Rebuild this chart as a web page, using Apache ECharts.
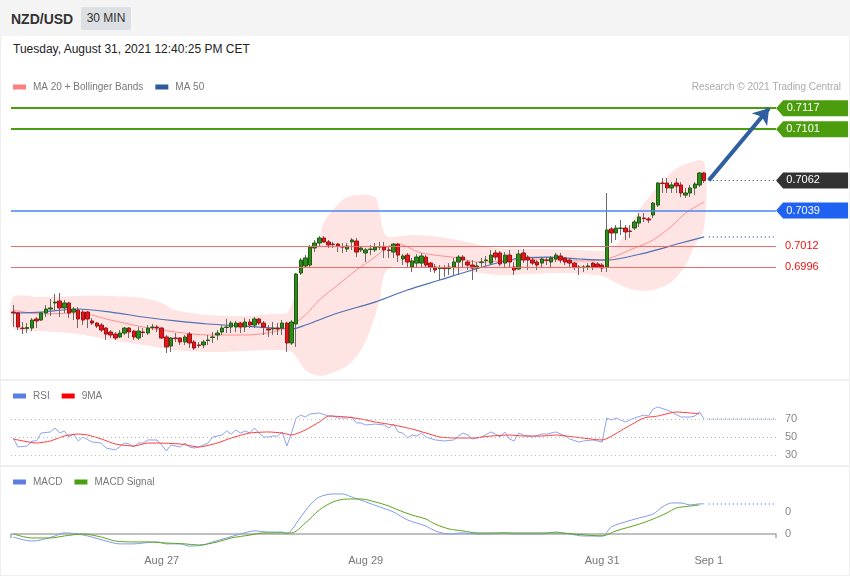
<!DOCTYPE html>
<html><head><meta charset="utf-8">
<script src="https://cdn.jsdelivr.net/npm/echarts@6/dist/echarts.min.js"></script>
<style>
html,body{margin:0;padding:0;background:#fff;}
#wrap{position:relative;width:850px;height:576px;overflow:hidden;font-family:Arial,"Liberation Sans",sans-serif;}
#hdr{position:absolute;left:0;top:0;width:850px;height:36px;background:#f4f4f4;}
#sym{position:absolute;left:11px;top:10px;font-size:14px;font-weight:bold;color:#333;line-height:18px;}
#tf{position:absolute;left:81px;top:7px;width:50px;height:23px;background:#dcdfe4;color:#333;font-size:12px;line-height:23px;text-align:center;border-radius:2px;}
#date{position:absolute;left:13px;top:41px;font-size:12px;color:#222;line-height:16px;}
#chart{position:absolute;left:0;top:0;width:850px;height:576px;z-index:2;}
.sep{position:absolute;left:0;width:850px;height:2px;background:#efefef;}
.vb{position:absolute;top:36px;width:1px;height:540px;background:#efefef;}
</style></head>
<body>
<div id="wrap">
  <div id="hdr"><div id="sym">NZD/USD</div><div id="tf">30 MIN</div></div>
  <div id="date">Tuesday, August 31, 2021 12:40:25 PM CET</div>
  <div class="sep" style="top:379px"></div>
  <div class="sep" style="top:465px"></div>
  <div class="sep" style="top:575px;height:1px"></div>
  <div class="vb" style="left:0"></div>
  <div class="vb" style="left:849px"></div>
  <div id="chart"></div>
</div>
<script>
const nSlots = 165;
const xLabelIdx = [32, 76, 127, 150];
const xLabelText = ['Aug 27', 'Aug 29', 'Aug 31', 'Sep 1'];

// [open, close, low, high]
const ohlc = [
[0.69617,0.69610,0.69503,0.69670],[0.69610,0.69503,0.69480,0.69617],[0.69495,0.69491,0.69449,0.69541],[0.69491,0.69499,0.69457,0.69533],
[0.69495,0.69556,0.69472,0.69571],[0.69564,0.69549,0.69495,0.69579],[0.69556,0.69610,0.69549,0.69617],[0.69610,0.69640,0.69579,0.69670],
[0.69640,0.69648,0.69587,0.69716],[0.69686,0.69693,0.69632,0.69754],[0.69701,0.69648,0.69579,0.69762],[0.69648,0.69686,0.69610,0.69709],
[0.69686,0.69610,0.69571,0.69693],[0.69617,0.69640,0.69556,0.69655],[0.69632,0.69564,0.69495,0.69655],[0.69617,0.69556,0.69518,0.69632],
[0.69617,0.69564,0.69495,0.69625],[0.69549,0.69533,0.69518,0.69571],[0.69533,0.69510,0.69495,0.69541],[0.69518,0.69480,0.69465,0.69533],
[0.69495,0.69449,0.69404,0.69503],[0.69465,0.69442,0.69419,0.69480],[0.69449,0.69419,0.69404,0.69465],[0.69427,0.69457,0.69419,0.69480],
[0.69457,0.69495,0.69442,0.69503],[0.69495,0.69465,0.69419,0.69503],[0.69472,0.69427,0.69404,0.69480],[0.69419,0.69472,0.69404,0.69503],
[0.69465,0.69461,0.69427,0.69495],[0.69457,0.69495,0.69442,0.69518],[0.69499,0.69503,0.69480,0.69526],[0.69503,0.69495,0.69465,0.69518],
[0.69495,0.69419,0.69412,0.69503],[0.69427,0.69351,0.69305,0.69442],[0.69358,0.69419,0.69312,0.69427],[0.69419,0.69415,0.69389,0.69457],
[0.69419,0.69389,0.69366,0.69427],[0.69389,0.69427,0.69366,0.69442],[0.69449,0.69381,0.69343,0.69465],[0.69389,0.69343,0.69328,0.69404],
[0.69366,0.69362,0.69343,0.69389],[0.69366,0.69389,0.69343,0.69404],[0.69400,0.69404,0.69366,0.69442],[0.69423,0.69427,0.69381,0.69465],
[0.69442,0.69457,0.69404,0.69480],[0.69465,0.69495,0.69442,0.69518],[0.69499,0.69503,0.69457,0.69564],[0.69503,0.69533,0.69457,0.69549],
[0.69503,0.69533,0.69465,0.69549],[0.69533,0.69503,0.69457,0.69541],[0.69503,0.69541,0.69465,0.69571],[0.69541,0.69518,0.69495,0.69564],
[0.69518,0.69564,0.69495,0.69579],[0.69564,0.69533,0.69518,0.69571],[0.69533,0.69503,0.69442,0.69549],[0.69488,0.69480,0.69427,0.69518],
[0.69488,0.69495,0.69442,0.69541],[0.69495,0.69488,0.69442,0.69533],[0.69495,0.69533,0.69442,0.69556],[0.69533,0.69381,0.69312,0.69541],
[0.69381,0.69541,0.69366,0.69556],[0.69526,0.69907,0.69351,0.69914],[0.69914,0.70013,0.69899,0.70029],[0.69968,0.70029,0.69960,0.70051],
[0.69975,0.70112,0.69960,0.70128],[0.70105,0.70143,0.70074,0.70166],[0.70143,0.70181,0.70112,0.70196],[0.70181,0.70151,0.70143,0.70196],
[0.70151,0.70128,0.70105,0.70166],[0.70135,0.70131,0.70105,0.70151],[0.70135,0.70120,0.70074,0.70143],[0.70116,0.70112,0.70067,0.70143],
[0.70097,0.70120,0.70074,0.70143],[0.70151,0.70166,0.70090,0.70181],[0.70158,0.70074,0.70036,0.70181],[0.70090,0.70105,0.70074,0.70120],
[0.70067,0.70090,0.69998,0.70105],[0.70093,0.70097,0.70051,0.70128],[0.70090,0.70112,0.70074,0.70143],[0.70112,0.70116,0.70090,0.70151],
[0.70112,0.70090,0.70029,0.70151],[0.70090,0.70086,0.70029,0.70112],[0.70074,0.70135,0.70029,0.70143],[0.70135,0.70051,0.69998,0.70143],
[0.70021,0.70044,0.69975,0.70059],[0.70051,0.69998,0.69960,0.70067],[0.69960,0.70006,0.69922,0.70029],[0.69990,0.70036,0.69952,0.70059],
[0.69990,0.70044,0.69960,0.70067],[0.70036,0.69975,0.69952,0.70051],[0.69990,0.69960,0.69922,0.69998],[0.69960,0.69937,0.69914,0.69983],
[0.69948,0.69952,0.69861,0.69975],[0.69952,0.69948,0.69884,0.69975],[0.69948,0.69960,0.69899,0.69990],[0.69960,0.69998,0.69899,0.70029],
[0.69998,0.70036,0.69899,0.70051],[0.70036,0.70013,0.69960,0.70051],[0.69998,0.69975,0.69937,0.70013],[0.69975,0.69952,0.69861,0.70013],
[0.69952,0.69968,0.69922,0.69998],[0.69994,0.69998,0.69960,0.70029],[0.70010,0.70013,0.69968,0.70044],[0.69990,0.70051,0.69975,0.70090],
[0.70067,0.70036,0.70013,0.70090],[0.70067,0.69983,0.69968,0.70082],[0.69990,0.70051,0.69960,0.70074],[0.70051,0.69998,0.69952,0.70090],
[0.69960,0.69937,0.69899,0.69998],[0.69945,0.70059,0.69937,0.70090],[0.70067,0.70013,0.69990,0.70097],[0.70036,0.70013,0.69937,0.70051],
[0.70013,0.69990,0.69975,0.70029],[0.69998,0.69975,0.69937,0.70013],[0.69990,0.70021,0.69960,0.70036],[0.70013,0.70010,0.69975,0.70036],
[0.69998,0.70029,0.69960,0.70044],[0.70021,0.70051,0.69998,0.70067],[0.70044,0.70013,0.69990,0.70067],[0.70029,0.69998,0.69975,0.70036],
[0.70013,0.69990,0.69960,0.70029],[0.69990,0.69960,0.69937,0.69998],[0.69960,0.69956,0.69899,0.69975],[0.69956,0.69960,0.69922,0.69975],
[0.69960,0.69968,0.69937,0.69990],[0.69990,0.69960,0.69937,0.69998],[0.69983,0.69960,0.69952,0.69998],[0.69975,0.69952,0.69922,0.69990],
[0.69960,0.70242,0.69922,0.70524],[0.70250,0.70219,0.70143,0.70265],[0.70219,0.70257,0.70166,0.70280],[0.70253,0.70257,0.70204,0.70318],
[0.70257,0.70227,0.70166,0.70280],[0.70234,0.70231,0.70181,0.70280],[0.70257,0.70303,0.70242,0.70318],[0.70295,0.70341,0.70265,0.70371],
[0.70333,0.70329,0.70303,0.70371],[0.70326,0.70318,0.70295,0.70341],[0.70356,0.70447,0.70333,0.70455],[0.70432,0.70600,0.70417,0.70607],
[0.70600,0.70596,0.70524,0.70638],[0.70600,0.70562,0.70524,0.70638],[0.70562,0.70585,0.70524,0.70607],[0.70600,0.70577,0.70524,0.70638],
[0.70585,0.70524,0.70493,0.70607],[0.70508,0.70524,0.70486,0.70562],[0.70524,0.70562,0.70493,0.70585],[0.70562,0.70592,0.70508,0.70607],
[0.70585,0.70676,0.70570,0.70684],[0.70676,0.70619,0.70600,0.70684]
];

const ma20Idx = [0,6,14,21,28,35,42,50,56,60,63,66,70,74,78,81,83,88,96,100,113,122,128,134,138,142,145,149];
const ma20Val = [0.69632,0.69602,0.69610,0.69556,0.69503,0.69465,0.69442,0.69442,0.69465,0.69518,0.69594,0.69709,0.69823,0.69937,0.70036,0.70120,0.70135,0.70067,0.70029,0.69998,0.70021,0.70006,0.70021,0.70105,0.70166,0.70272,0.70371,0.70455];
const ma50Idx = [0,6,14,21,28,35,42,50,56,60,63,70,78,85,92,99,108,115,122,128,137,144,149];
const ma50Val = [0.69610,0.69617,0.69640,0.69617,0.69579,0.69549,0.69526,0.69510,0.69495,0.69488,0.69518,0.69610,0.69693,0.69785,0.69861,0.69937,0.70021,0.70036,0.70021,0.70013,0.70074,0.70143,0.70189];
const bbUpIdx = [0,6,14,21,28,32,35,42,50,56,59,60,62,64,66,67,71,74,78,79,80,81,86,92,98,104,115,122,128,131,135,138,142,145,149];
const bbUpVal = [0.69731,0.69731,0.69739,0.69739,0.69724,0.69686,0.69632,0.69594,0.69587,0.69602,0.69610,0.69670,0.69899,0.70074,0.70181,0.70303,0.70470,0.70508,0.70493,0.70371,0.70219,0.70189,0.70204,0.70189,0.70151,0.70105,0.70097,0.70090,0.70090,0.70166,0.70394,0.70531,0.70684,0.70745,0.70760];
const bbLoIdx = [0,6,14,21,28,35,42,50,56,60,63,66,68,72,75,77,79,80,82,90,99,105,118,127,130,134,138,142,145,147,149];
const bbLoVal = [0.69495,0.69472,0.69449,0.69404,0.69366,0.69328,0.69312,0.69320,0.69328,0.69312,0.69175,0.69130,0.69145,0.69206,0.69328,0.69480,0.69709,0.69899,0.69968,0.69952,0.69922,0.69899,0.69914,0.69891,0.69838,0.69785,0.69785,0.69846,0.69975,0.70128,0.70257];

const rsiIdx = [0,1,3,4,5,6,8,9,10,11,12,13,14,15,17,19,20,22,24,25,26,27,28,29,31,32,33,34,36,37,38,39,40,42,43,45,46,47,48,49,50,51,52,53,54,55,56,57,58,59,60,61,62,63,64,66,68,69,70,72,73,74,75,76,78,80,81,82,83,84,85,86,87,88,89,91,93,95,96,97,98,99,101,103,104,105,106,107,108,109,110,112,114,115,117,119,120,122,123,125,127,128,129,130,132,134,136,137,138,139,141,142,144,146,147,148,149];
const rsiVal = [48.9,38.9,40,45.6,45.6,54.4,55.6,60,54.4,56.7,50,53.3,45.6,50,44.4,43.3,37.8,35.6,43.3,42.2,38.9,43.3,43.3,46.7,46.7,41.1,34.4,41.1,38.9,43.3,38.9,37.8,38.9,43.3,50,52.2,56.7,53.3,57.8,54.4,56.7,54.4,60,54.4,50,50,51.1,51.1,55.6,40,54.4,71.1,74.4,72.2,75.6,76.7,73.3,73.3,71.1,71.1,72.2,65.6,65.6,63.3,64.4,63.3,60,64.4,55.6,54.4,48.9,52.2,51.1,54.4,50,46.7,45.6,46.7,51.1,54.4,52.2,47.8,50,55.6,53.3,50,55.6,47.8,45.6,54.4,52.2,50,53.3,53.3,55.6,51.1,47.8,44.4,45.6,46.7,44.4,71.1,68.9,71.1,66.7,71.1,74.4,73.3,81.1,83.3,80,77.8,72.2,72.2,73.3,77.8,70];
const rsi9Idx = [0,5,8,11,14,16,19,22,26,29,31,36,40,44,47,51,55,58,60,63,66,68,72,75,78,82,86,89,92,95,99,103,107,110,114,117,121,127,132,136,139,143,146,148];
const rsi9Val = [47.8,43.3,45.6,51.1,53.3,52.2,47.8,42.2,40,43.3,43.3,42.2,38.9,43.3,48.9,54.4,55.6,54.4,52.2,57.8,66.7,73.3,72.2,70,66.7,63.3,58.9,54.4,50,48.9,48.9,51.1,52.2,51.1,51.1,52.2,50,46.7,60,71.1,73.3,77.8,76.7,75.6];

const macdIdx = [0,4,6,9,11,14,17,20,23,26,28,31,33,36,38,41,43,46,49,52,55,58,59,60,62,64,66,69,71,73,76,79,82,85,89,91,94,97,100,103,106,108,111,114,117,120,123,127,129,132,135,138,140,142,144,146,148,149];
const macdVal = [-0.00014,-0.00032,-0.00027,-0.00009,0.00005,0,-0.00014,-0.00032,-0.00045,-0.00045,-0.00041,-0.00036,-0.00045,-0.00045,-0.00055,-0.0005,-0.00036,-0.00018,0,0.00014,0.00009,0.00009,0,0.00018,0.00077,0.00132,0.00168,0.00182,0.00182,0.00168,0.00146,0.00123,0.001,0.00064,0.00036,0.00014,0,0.00005,0,0,0.00005,0,0,0,0.00009,0,-0.00009,-0.00009,0.00032,0.00055,0.00073,0.00091,0.00123,0.00141,0.00141,0.00132,0.00137,0.00137];
const sigIdx = [0,4,8,11,15,19,22,26,29,33,37,40,44,47,51,54,59,60,63,66,69,72,75,78,81,83,86,89,91,94,97,100,103,110,117,121,127,130,135,138,141,143,146,148];
const sigVal = [0,-0.00018,-0.00018,-0.00009,0,-0.00014,-0.00032,-0.00036,-0.00036,-0.00041,-0.00045,-0.0005,-0.00036,-0.00018,-0.00005,0.00005,0.00005,0.00005,0.0005,0.00109,0.00146,0.00159,0.00159,0.00146,0.00127,0.00109,0.00086,0.00068,0.00045,0.00023,0.00014,0.00005,0.00005,0.00005,0.00005,0,-0.00009,0.00014,0.00045,0.00068,0.00096,0.00118,0.00127,0.00132];

const resistLevels = [0.7117, 0.7101];
const lastPrice = 0.7062;
const pivotLevel = 0.7039;
const supportLevels = [0.7012, 0.6996];
const targetLevel = 0.7117;
const rsiTicks = [70, 50, 30];
const macdTicks = [0.001, 0];
const macdTickText = ['0', '0'];

const FONT = 'Arial, "Liberation Sans", sans-serif';
const pairs = (idx, val) => idx.map((x, k) => [x, val[k]]);
const cats = Array.from({length: nSlots}, (_, i) => String(i));
const lastIdx = ohlc.length - 1;
const endIdx = nSlots - 1;
const TAG = 'path://M0,8L7,0L72,0L72,16L7,16Z';

function tag(v, color) {
  return {coord: [endIdx, v], value: v, symbol: TAG, symbolSize: [72, 16], symbolOffset: [38.4, 0],
    symbolKeepAspect: false, itemStyle: {color: color},
    label: {show: true, position: 'inside', formatter: v.toFixed(4), color: '#fff', fontSize: 11, fontFamily: FONT, offset: [-9, 0]}};
}
const legendText = {color: '#777', fontSize: 10, fontFamily: FONT, padding: [0, 0, 0, 2]};

const chart = echarts.init(document.getElementById('chart'), null, {renderer: 'canvas'});
const option = {
  animation: false,
  backgroundColor: 'transparent',
  textStyle: {fontFamily: FONT},
  title: {text: 'Research \u00a9 2021 Trading Central', right: 9, top: 82, padding: 0,
    textStyle: {fontSize: 10, color: '#aaa', fontWeight: 'normal', fontFamily: FONT}},
  legend: [
    {left: 13, top: 82, padding: 0, icon: 'rect', itemWidth: 13, itemHeight: 5, itemGap: 12, selectedMode: false,
     textStyle: legendText,
     data: [{name: 'MA 20 + Bollinger Bands', itemStyle: {color: '#ff7f7f'}}, {name: 'MA 50', itemStyle: {color: '#2e5a9c'}}]},
    {left: 13, top: 391, padding: 0, icon: 'rect', itemWidth: 13, itemHeight: 5, itemGap: 12, selectedMode: false,
     textStyle: legendText,
     data: [{name: 'RSI', itemStyle: {color: '#5c7fe3'}}, {name: '9MA', itemStyle: {color: '#ff0000'}}]},
    {left: 13, top: 477, padding: 0, icon: 'rect', itemWidth: 13, itemHeight: 5, itemGap: 12, selectedMode: false,
     textStyle: legendText,
     data: [{name: 'MACD', itemStyle: {color: '#5c7fe3'}}, {name: 'MACD Signal', itemStyle: {color: '#4aa010'}}]}
  ],
  grid: [
    {left: 11, right: 74, top: 58.3, height: 321.6, outerBoundsMode: 'none'},
    {left: 11, right: 74, top: 401, height: 63, outerBoundsMode: 'none'},
    {left: 11, right: 74, top: 488, height: 60, outerBoundsMode: 'none'}
  ],
  xAxis: [
    {type: 'category', gridIndex: 0, data: cats, boundaryGap: true, show: false},
    {type: 'category', gridIndex: 1, data: cats, boundaryGap: true, show: false},
    {type: 'category', gridIndex: 2, data: cats, boundaryGap: true,
     axisLine: {show: true, lineStyle: {color: '#aaa', width: 1.5}},
     axisTick: {show: true, interval: (i) => i === 0, length: 4, lineStyle: {color: '#aaa', width: 1.5}},
     axisLabel: {interval: (i) => xLabelIdx.includes(i), formatter: (v) => xLabelText[xLabelIdx.indexOf(Number(v))] || '',
       color: '#777', fontSize: 11, margin: 7, fontFamily: FONT},
     splitLine: {show: false}}
  ],
  yAxis: [
    {type: 'value', gridIndex: 0, min: 0.6910, max: 0.7155, show: false},
    {type: 'value', gridIndex: 1, min: 20, max: 90, show: false},
    {type: 'value', gridIndex: 2, min: -0.000636, max: 0.00209, show: false}
  ],
  series: [
    {type: 'custom', name: 'BB', xAxisIndex: 0, yAxisIndex: 0, silent: true, z: 1, data: [[0, 0.70]],
     renderItem: function (params, api) {
       const pts = [];
       for (let k = 0; k < bbUpIdx.length; k++) pts.push(api.coord([bbUpIdx[k], bbUpVal[k]]));
       for (let k = bbLoIdx.length - 1; k >= 0; k--) pts.push(api.coord([bbLoIdx[k], bbLoVal[k]]));
       return {type: 'polygon', shape: {points: pts, smooth: 0.3}, style: {fill: '#ffe4e4'}};
     }},
    {type: 'line', name: 'MA 20 + Bollinger Bands', xAxisIndex: 0, yAxisIndex: 0, z: 2, data: pairs(ma20Idx, ma20Val),
     smooth: 0.3, symbol: 'none', lineStyle: {color: '#ff8f8f', width: 1}, itemStyle: {color: '#ff7f7f'},
     markLine: {silent: true, symbol: 'none', precision: 6,
       data: [
         ...resistLevels.map(v => ({yAxis: v, lineStyle: {color: '#4c9d0e', width: 2, type: 'solid'}, label: {show: false}})),
         {yAxis: pivotLevel, lineStyle: {color: '#4a86f0', width: 1.5, type: 'solid'}, label: {show: false}},
         ...supportLevels.map(v => ({yAxis: v, lineStyle: {color: '#f26b6b', width: 1, type: 'solid'},
           label: {show: true, position: 'end', formatter: v.toFixed(4), color: '#ee1111', fontSize: 11, distance: 9, fontFamily: FONT}})),
         [{coord: [lastIdx + 1, lastPrice], lineStyle: {color: '#333', type: [1, 3], width: 1.2}, label: {show: false}},
          {coord: [endIdx, lastPrice]}]
       ]}},
    {type: 'line', name: 'MA 50', xAxisIndex: 0, yAxisIndex: 0, z: 2, data: pairs(ma50Idx, ma50Val),
     smooth: 0.3, symbol: 'none', lineStyle: {color: '#4e70b4', width: 1.2}, itemStyle: {color: '#2e5a9c'},
     markLine: {silent: true, symbol: 'none', precision: 6, label: {show: false},
       data: [[{coord: [lastIdx + 1, ma50Val[ma50Val.length - 1]], lineStyle: {color: '#4e70b4', type: [1, 3], width: 1.5}},
               {coord: [endIdx, ma50Val[ma50Val.length - 1]]}]]}},
    {type: 'candlestick', name: 'wick', xAxisIndex: 0, yAxisIndex: 0, z: 3, barWidth: 1,
     data: ohlc,
     itemStyle: {color: '#6a6a6a', color0: '#6a6a6a', borderColor: '#6a6a6a', borderColor0: '#6a6a6a', borderWidth: 1}},
    {type: 'candlestick', name: 'body', xAxisIndex: 0, yAxisIndex: 0, z: 4, barWidth: 4,
     data: ohlc.map(r => [r[0], r[1], Math.min(r[0], r[1]), Math.max(r[0], r[1])]),
     itemStyle: {color: '#2d8a1c', color0: '#e3161c', borderColor: '#1f5e12', borderColor0: '#a31014', borderWidth: 1},
     markLine: {silent: true, symbol: 'none', precision: 6,
       data: [[{coord: [lastIdx + 1, lastPrice], symbol: 'none', lineStyle: {color: '#2f5f9f', width: 4, type: 'solid'}, label: {show: false}},
               {coord: [endIdx - 1, targetLevel], symbol: 'arrow', symbolSize: [15, 15]}]]},
     markPoint: {silent: true,
       data: [tag(resistLevels[0], '#4c9d0e'), tag(resistLevels[1], '#4c9d0e'), tag(lastPrice, '#333333'), tag(pivotLevel, '#1f62f2')]}},
    {type: 'line', name: 'RSI', xAxisIndex: 1, yAxisIndex: 1, data: pairs(rsiIdx, rsiVal), symbol: 'none', z: 3,
     lineStyle: {color: '#8ba4ee', width: 1}, itemStyle: {color: '#5c7fe3'},
     markLine: {silent: true, symbol: 'none', precision: 6,
       data: [
         ...rsiTicks.map(v => ({yAxis: v, lineStyle: {color: '#bdbdbd', type: [1, 3], width: 1},
           label: {show: true, position: 'end', formatter: String(v), color: '#888', fontSize: 11, distance: 9, fontFamily: FONT}})),
         [{coord: [lastIdx + 1, rsiVal[rsiVal.length - 1]], lineStyle: {color: '#6d8ee6', type: [1, 3], width: 1.5}, label: {show: false}},
          {coord: [endIdx, rsiVal[rsiVal.length - 1]]}]
       ]}},
    {type: 'line', name: '9MA', xAxisIndex: 1, yAxisIndex: 1, data: pairs(rsi9Idx, rsi9Val), symbol: 'none', z: 4,
     smooth: 0.2, lineStyle: {color: '#ff3a3a', width: 1}, itemStyle: {color: '#ff0000'}},
    {type: 'line', name: 'MACD', xAxisIndex: 2, yAxisIndex: 2, data: pairs(macdIdx, macdVal), symbol: 'none', z: 3,
     smooth: 0.3, lineStyle: {color: '#7f9aea', width: 1}, itemStyle: {color: '#5c7fe3'},
     markLine: {silent: true, symbol: 'none', precision: 8,
       data: [
         ...macdTicks.map((v, k) => ({yAxis: v, lineStyle: {color: 'rgba(0,0,0,0)', width: 0},
           label: {show: true, position: 'end', formatter: macdTickText[k], color: '#888', fontSize: 11, distance: 9, fontFamily: FONT}})),
         [{coord: [lastIdx + 1, macdVal[macdVal.length - 1]], lineStyle: {color: '#6d8ee6', type: [1, 3], width: 1.5}, label: {show: false}},
          {coord: [endIdx, macdVal[macdVal.length - 1]]}]
       ]}},
    {type: 'line', name: 'MACD Signal', xAxisIndex: 2, yAxisIndex: 2, data: pairs(sigIdx, sigVal), symbol: 'none', z: 4,
     smooth: 0.3, lineStyle: {color: '#5aa51a', width: 1}, itemStyle: {color: '#4aa010'}}
  ]
};
chart.setOption(option);
</script>
</body></html>
